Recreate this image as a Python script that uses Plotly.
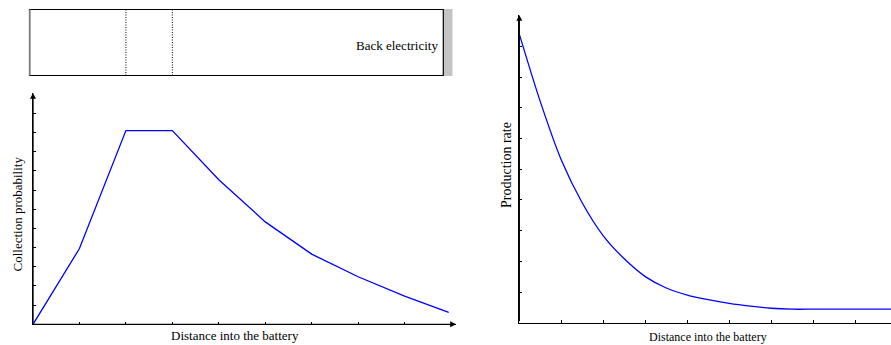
import plotly.graph_objects as go

# ---- data ----
collect_x = [0, 1, 2, 3, 4, 5, 6, 7, 8, 8.95]
collect_y = [0, 3.95, 10.1, 10.1, 7.54, 5.34, 3.66, 2.48, 1.47, 0.62]

prod_x = [0, 0.5, 1.0, 1.5, 2.0, 2.5, 3.0, 3.5, 4.0, 4.5, 5.0, 5.5, 6.0, 6.5, 7.0, 8.0, 8.85]
prod_y = [9.4, 7.2, 5.3, 3.9, 2.83, 2.08, 1.5, 1.13, 0.9, 0.75, 0.63, 0.54, 0.47, 0.44, 0.44, 0.44, 0.44]

left_xticks = [1, 2, 3, 4, 5, 6, 7, 8]
left_yticks = list(range(1, 12))
right_xticks = [1, 2, 3, 4, 5, 6, 7, 8]
right_yticks = list(range(1, 10))
junction_x = [2, 3]

W, H = 891, 345
FONT = "Liberation Serif"

def px(x):
    return x / W

def py(y):
    return (H - y) / H

fig = go.Figure()
fig.add_trace(go.Scatter(x=collect_x, y=collect_y, mode="lines",
                         line=dict(color="#0000ff", width=1.3),
                         xaxis="x", yaxis="y", showlegend=False, hoverinfo="skip"))
fig.add_trace(go.Scatter(x=prod_x, y=prod_y, mode="lines",
                         line=dict(color="#0000ff", width=1.3, shape="spline", smoothing=0.8),
                         xaxis="x2", yaxis="y2", showlegend=False, hoverinfo="skip"))

L_X0, L_X1 = 33, 456
L_Y0, L_Y1 = 324.3, 93
L_XU, L_YU = 46.45, 19.18
R_X0, R_X1 = 519.3, 891
R_Y0, R_Y1 = 322.7, 15
R_XU, R_YU = 42.0, 30.7

axis_common = dict(showgrid=False, zeroline=False, showticklabels=False,
                   ticks="inside", ticklen=2.5, tickwidth=1, tickcolor="black",
                   showline=True, linecolor="black", linewidth=1.4, fixedrange=True)

fig.update_layout(
    width=W, height=H, margin=dict(l=0, r=0, t=0, b=0),
    paper_bgcolor="white", plot_bgcolor="white",
    xaxis=dict(domain=[px(L_X0), px(L_X1)], range=[0, (L_X1 - L_X0) / L_XU],
               tickvals=left_xticks, anchor="y", **axis_common),
    yaxis=dict(domain=[py(L_Y0), py(L_Y1)], range=[0, (L_Y0 - L_Y1) / L_YU],
               tickvals=left_yticks, anchor="x", **axis_common),
    xaxis2=dict(domain=[px(R_X0), px(R_X1)], range=[0, (R_X1 - R_X0) / R_XU],
                tickvals=right_xticks, anchor="y2", **axis_common),
    yaxis2=dict(domain=[py(R_Y0), py(R_Y1)], range=[0, (R_Y0 - R_Y1) / R_YU],
                tickvals=right_yticks, anchor="x2", **axis_common),
)

shapes = []
# top box
shapes.append(dict(type="rect", xref="paper", yref="paper",
                   x0=px(443.5), x1=px(452.5), y0=py(76), y1=py(9),
                   line=dict(width=0), fillcolor="#c4c4c4"))
shapes.append(dict(type="rect", xref="paper", yref="paper",
                   x0=px(29.5), x1=px(443.3), y0=py(75.5), y1=py(9.5),
                   line=dict(color="black", width=1.2), fillcolor="rgba(0,0,0,0)"))
shapes.append(dict(type="line", xref="paper", yref="paper",
                   x0=px(29.8), x1=px(29.8), y0=py(75.5), y1=py(9.5),
                   line=dict(color="#808080", width=1.6)))
for jx in junction_x:
    shapes.append(dict(type="line", xref="x", yref="paper",
                       x0=jx, x1=jx, y0=py(75.5), y1=py(9.5),
                       line=dict(color="black", width=1, dash="1px,1.5px")))
fig.update_layout(shapes=shapes)

ann = []
# axis arrows
def arrow(xref, yref, x, y, ax, ay):
    return dict(xref=xref, yref=yref, axref=xref, ayref=yref,
                x=x, y=y, ax=ax, ay=ay, text="", showarrow=True,
                arrowhead=2, arrowsize=0.9, arrowwidth=1.3, arrowcolor="black",
                standoff=0, startstandoff=0)

ann.append(arrow("x", "y", 0, (L_Y0 - L_Y1) / L_YU, 0, 0))
ann.append(arrow("x", "y", (L_X1 - L_X0) / L_XU, 0, 0, 0))
ann.append(arrow("x2", "y2", 0, (R_Y0 - R_Y1) / R_YU, 0, 0))

ann.append(dict(xref="paper", yref="paper", x=px(440), y=py(45), xanchor="right",
                yanchor="middle", text="Back electricity", showarrow=False,
                font=dict(family=FONT, size=13, color="black")))
ann.append(dict(xref="paper", yref="paper", x=px(235), y=py(335), xanchor="center",
                yanchor="middle", text="Distance into the battery", showarrow=False,
                font=dict(family=FONT, size=13, color="black")))
ann.append(dict(xref="paper", yref="paper", x=px(16.5), y=py(214), xanchor="center",
                yanchor="middle", text="Collection probability", showarrow=False,
                textangle=-90, font=dict(family=FONT, size=13, color="black")))
ann.append(dict(xref="paper", yref="paper", x=px(707.5), y=py(337), xanchor="center",
                yanchor="middle", text="Distance into the battery", showarrow=False,
                font=dict(family=FONT, size=12, color="black")))
ann.append(dict(xref="paper", yref="paper", x=px(506), y=py(165), xanchor="center",
                yanchor="middle", text="Production rate", showarrow=False,
                textangle=-90, font=dict(family=FONT, size=14, color="black")))
fig.update_layout(annotations=ann)

fig.write_html("out.html", config={"displayModeBar": False},
               post_script="document.body.style.margin='0px';document.body.style.padding='0px';")
